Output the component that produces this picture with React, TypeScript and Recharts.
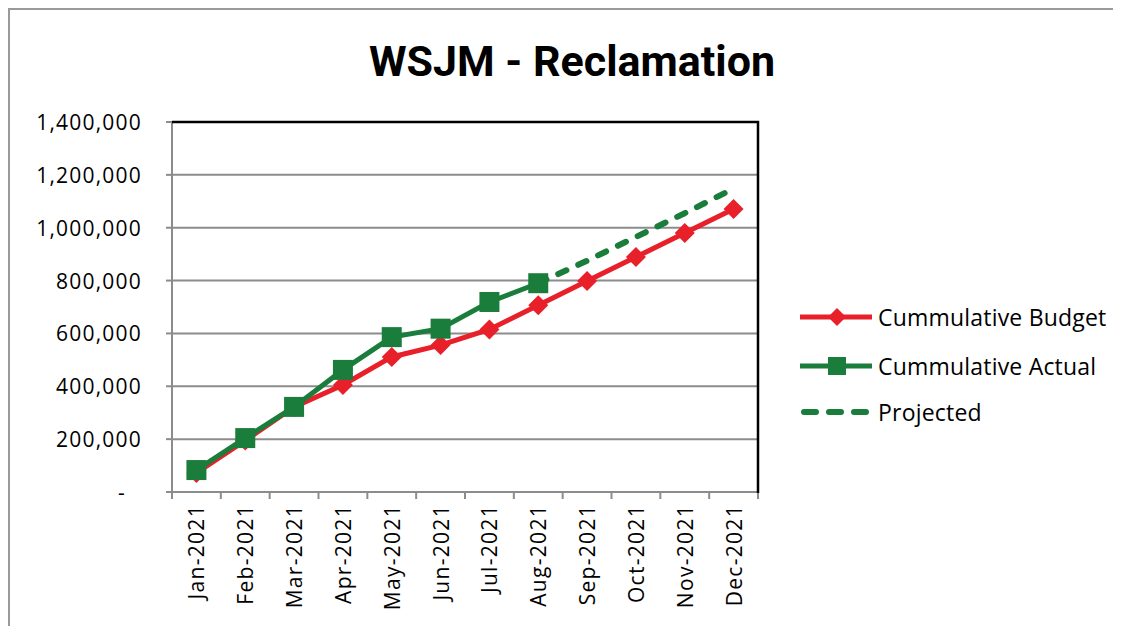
import React from 'react';
import { LineChart, Line, XAxis, YAxis, CartesianGrid } from 'recharts';

const months = [
  'Jan-2021', 'Feb-2021', 'Mar-2021', 'Apr-2021', 'May-2021', 'Jun-2021',
  'Jul-2021', 'Aug-2021', 'Sep-2021', 'Oct-2021', 'Nov-2021', 'Dec-2021',
];
const budget = [72000, 195000, 322000, 405000, 511000, 556000, 615000, 707000, 798000, 889000, 980000, 1071000];
const actual = [83000, 204000, 322000, 462000, 586000, 618000, 719000, 790000, null, null, null, null];
const projected = [null, null, null, null, null, null, null, 790000, 875000, 965000, 1055000, 1148000];
const yTicks = [0, 200000, 400000, 600000, 800000, 1000000, 1200000, 1400000];

const seriesNames = ['Cummulative Budget', 'Cummulative Actual', 'Projected'];

const RED = '#E8202A';
const GREEN = '#1A7D3B';
const GRID = '#8C8C8C';
const FONT = '"Open Sans", sans-serif';

const W = 1105;
const H = 618;
const plotLeft = 164;
const plotRight = 750;
const plotTop = 114;
const plotBottom = 484;
const band = (plotRight - plotLeft) / months.length;

const data = months.map((m, i) => ({
  month: m,
  budget: budget[i],
  actual: actual[i],
  projected: projected[i],
}));

const Diamond = (props: any) => {
  const { cx, cy, index } = props;
  if (cx == null || cy == null || props.value == null) return <g key={`d-${index}`} />;
  const r = 10;
  return (
    <polygon
      key={`d-${index}`}
      points={`${cx},${cy - r} ${cx + r},${cy} ${cx},${cy + r} ${cx - r},${cy}`}
      fill={RED}
    />
  );
};

const Square = (props: any) => {
  const { cx, cy, index } = props;
  if (cx == null || cy == null || props.value == null) return <g key={`s-${index}`} />;
  const s = 10;
  return <rect key={`s-${index}`} x={cx - s} y={cy - s} width={s * 2} height={s * 2} fill={GREEN} />;
};

const MonthTick = (props: any) => {
  const { x, y, payload, index } = props;
  const last = index === months.length - 1;
  return (
    <g>
      <line x1={x - band / 2} x2={x - band / 2} y1={y} y2={y + 7} stroke={GRID} strokeWidth={2} />
      {last && <line x1={x + band / 2} x2={x + band / 2} y1={y} y2={y + 7} stroke={GRID} strokeWidth={2} />}
      <text
        x={x}
        y={y + 12}
        transform={`rotate(-90, ${x}, ${y + 12})`}
        textAnchor="end"
        dominantBaseline="central"
        fontFamily={FONT}
        fontSize={21}
        letterSpacing={1.3}
        fill="#000"
      >
        {payload.value}
      </text>
    </g>
  );
};

const ValueTick = (props: any) => {
  const { x, y, payload } = props;
  const v = payload.value as number;
  const label = v === 0 ? '-' : v.toLocaleString('en-US');
  return (
    <text
      x={v === 0 ? x - 16 : x}
      y={y}
      textAnchor="end"
      dominantBaseline="central"
      fontFamily={FONT}
      fontSize={21}
      letterSpacing={1.2}
      fill="#000"
    >
      {label}
    </text>
  );
};

export default function App() {
  const legendRows = [309, 358, 404];
  return (
    <div style={{ position: 'relative', width: W, height: H, background: '#fff' }}>
      <LineChart
        width={W}
        height={H}
        data={data}
        margin={{ top: plotTop, right: W - plotRight, bottom: 0, left: 0 }}
      >
        <CartesianGrid horizontal vertical={false} stroke={GRID} strokeWidth={2} />
        <XAxis
          dataKey="month"
          height={H - plotBottom}
          padding={{ left: band / 2, right: band / 2 }}
          axisLine={{ stroke: GRID, strokeWidth: 2 }}
          tickLine={false}
          tickSize={0}
          tickMargin={0}
          interval={0}
          tick={<MonthTick />}
        />
        <YAxis
          width={plotLeft}
          domain={[0, 1400000]}
          ticks={yTicks}
          interval={0}
          axisLine={{ stroke: GRID, strokeWidth: 2 }}
          tickLine={{ stroke: GRID, strokeWidth: 2 }}
          tickSize={6}
          tickMargin={24}
          tick={<ValueTick />}
        />
        <Line
          dataKey="budget"
          name={seriesNames[0]}
          stroke={RED}
          strokeWidth={5}
          dot={Diamond}
          activeDot={false}
          isAnimationActive={false}
        />
        <Line
          dataKey="actual"
          name={seriesNames[1]}
          stroke={GREEN}
          strokeWidth={5}
          dot={Square}
          activeDot={false}
          isAnimationActive={false}
        />
        <Line
          dataKey="projected"
          name={seriesNames[2]}
          stroke={GREEN}
          strokeWidth={6}
          strokeDasharray="9 13"
          strokeLinecap="round"
          dot={false}
          activeDot={false}
          isAnimationActive={false}
        />
      </LineChart>

      <svg
        width={W}
        height={H}
        style={{ position: 'absolute', left: 0, top: 0, pointerEvents: 'none' }}
      >
        {/* black frame on the top and right of the plot */}
        <polyline
          points={`${plotLeft},${plotTop} ${plotRight},${plotTop} ${plotRight},${plotBottom + 1}`}
          fill="none"
          stroke="#000"
          strokeWidth={2.5}
        />
        <text
          x={564}
          y={68}
          textAnchor="middle"
          fontFamily="Roboto, sans-serif"
          fontWeight={700}
          fontSize={43}
          fill="#000"
        >
          WSJM - Reclamation
        </text>

        <g>
          <line x1={792} x2={864} y1={legendRows[0]} y2={legendRows[0]} stroke={RED} strokeWidth={5} />
          <polygon
            points={`829,${legendRows[0] - 9} 838,${legendRows[0]} 829,${legendRows[0] + 9} 820,${legendRows[0]}`}
            fill={RED}
          />
          <line x1={792} x2={864} y1={legendRows[1]} y2={legendRows[1]} stroke={GREEN} strokeWidth={5} />
          <rect x={820} y={legendRows[1] - 9} width={18} height={18} fill={GREEN} />
          <line
            x1={796}
            x2={860}
            y1={legendRows[2]}
            y2={legendRows[2]}
            stroke={GREEN}
            strokeWidth={6}
            strokeDasharray="12 13"
            strokeLinecap="round"
          />
          {seriesNames.map((n, i) => (
            <text
              key={n}
              x={870}
              y={legendRows[i]}
              dominantBaseline="central"
              fontFamily={FONT}
              fontSize={23}
              letterSpacing={0.2}
              fill="#000"
            >
              {n}
            </text>
          ))}
        </g>
      </svg>
      <div
        style={{
          position: 'absolute',
          left: 0,
          top: 0,
          width: W + 2,
          height: H + 2,
          borderTop: '2px solid #9a9a9a',
          borderLeft: '2px solid #9a9a9a',
          borderRight: '2px solid #c8c8c8',
          borderBottom: '2px solid #d0d0d0',
          boxSizing: 'border-box',
          pointerEvents: 'none',
        }}
      />
    </div>
  );
}
